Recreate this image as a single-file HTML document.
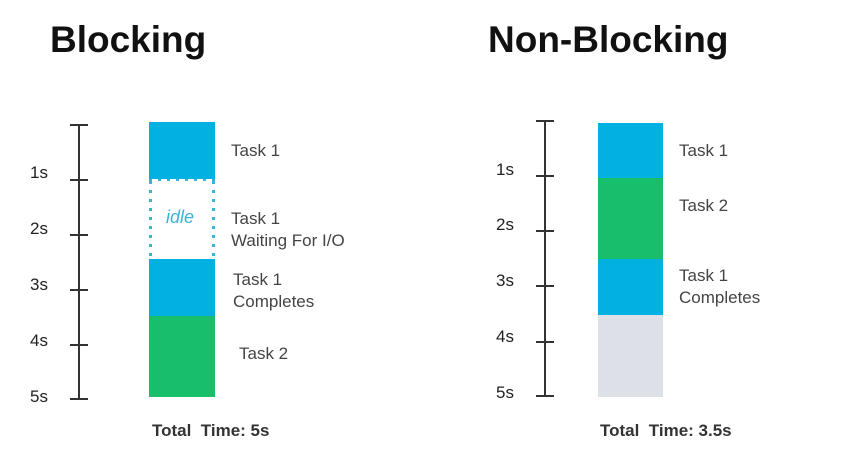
<!DOCTYPE html>
<html><head><style>
body{margin:0;width:853px;height:466px;background:#fff;overflow:hidden;position:relative;font-family:"Liberation Sans",sans-serif;color:#3a3f44}
.a{position:absolute}
.t{font-size:37px;font-weight:bold;color:#111}
.l{font-size:17px;color:#222}
.k{font-size:17px;color:#444;line-height:22px}
.tot{font-size:17px;font-weight:bold;color:#333}
.ax{background:#333;width:2px}
.tk{background:#333;height:2px;width:18px}
</style></head><body>
<div class="a t" style="left:50px;top:19px">Blocking</div>
<div class="a t" style="left:488px;top:19px">Non-Blocking</div>

<!-- left axis -->
<div class="a ax" style="left:78px;top:125px;height:275px"></div>
<div class="a tk" style="left:70px;top:124px"></div>
<div class="a tk" style="left:70px;top:179px"></div>
<div class="a tk" style="left:70px;top:234px"></div>
<div class="a tk" style="left:70px;top:289px"></div>
<div class="a tk" style="left:70px;top:344px"></div>
<div class="a tk" style="left:70px;top:398px"></div>
<div class="a l" style="left:30px;top:163px">1s</div>
<div class="a l" style="left:30px;top:219px">2s</div>
<div class="a l" style="left:30px;top:275px">3s</div>
<div class="a l" style="left:30px;top:331px">4s</div>
<div class="a l" style="left:30px;top:387px">5s</div>

<div class="a" style="left:149px;top:122px;width:66px;height:57px;background:#02b0e2"></div>
<svg class="a" style="left:149px;top:179px" width="66" height="80">
<line x1="1.5" y1="2" x2="1.5" y2="80" stroke="#3ab3d8" stroke-width="3" stroke-dasharray="3 6"/>
<line x1="64.5" y1="2" x2="64.5" y2="80" stroke="#3ab3d8" stroke-width="3" stroke-dasharray="3 6"/>
<line x1="0" y1="1" x2="66" y2="1" stroke="#3ab3d8" stroke-width="2" stroke-dasharray="3 6"/>
</svg>
<div class="a" style="left:166px;top:207px;font-size:18px;font-style:italic;color:#3ab3d8">idle</div>
<div class="a" style="left:149px;top:259px;width:66px;height:57px;background:#02b0e2"></div>
<div class="a" style="left:149px;top:316px;width:66px;height:81px;background:#18bf6a"></div>
<div class="a k" style="left:231px;top:140px">Task 1</div>
<div class="a k" style="left:231px;top:208px">Task 1<br>Waiting For I/O</div>
<div class="a k" style="left:233px;top:269px">Task 1<br>Completes</div>
<div class="a k" style="left:239px;top:343px">Task 2</div>
<div class="a tot" style="left:152px;top:421px">Total&nbsp; Time: 5s</div>

<!-- right axis -->
<div class="a ax" style="left:544px;top:121px;height:276px"></div>
<div class="a tk" style="left:536px;top:120px"></div>
<div class="a tk" style="left:536px;top:175px"></div>
<div class="a tk" style="left:536px;top:230px"></div>
<div class="a tk" style="left:536px;top:285px"></div>
<div class="a tk" style="left:536px;top:341px"></div>
<div class="a tk" style="left:536px;top:395px"></div>
<div class="a l" style="left:496px;top:160px">1s</div>
<div class="a l" style="left:496px;top:215px">2s</div>
<div class="a l" style="left:496px;top:271px">3s</div>
<div class="a l" style="left:496px;top:327px">4s</div>
<div class="a l" style="left:496px;top:383px">5s</div>

<div class="a" style="left:598px;top:123px;width:65px;height:55px;background:#02b0e2"></div>
<div class="a" style="left:598px;top:178px;width:65px;height:81px;background:#18bf6a"></div>
<div class="a" style="left:598px;top:259px;width:65px;height:56px;background:#02b0e2"></div>
<div class="a" style="left:598px;top:315px;width:65px;height:82px;background:#dde1e7"></div>
<div class="a k" style="left:679px;top:140px">Task 1</div>
<div class="a k" style="left:679px;top:195px">Task 2</div>
<div class="a k" style="left:679px;top:265px">Task 1<br>Completes</div>
<div class="a tot" style="left:600px;top:421px">Total&nbsp; Time: 3.5s</div>
</body></html>
